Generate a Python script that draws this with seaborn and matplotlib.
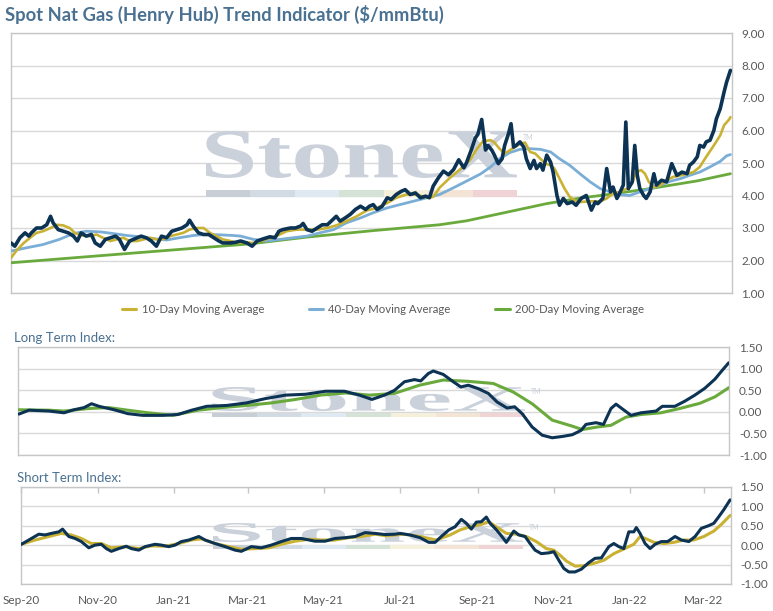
import pandas as pd
import matplotlib
matplotlib.use('Agg')
import matplotlib.pyplot as plt
import matplotlib.dates as mdates
import matplotlib.transforms as mtransforms
from matplotlib.patches import PathPatch, Rectangle
from matplotlib.lines import Line2D
from matplotlib.textpath import TextPath
from matplotlib.font_manager import FontProperties
from matplotlib.ticker import MultipleLocator, FormatStrFormatter
import seaborn as sns

W, H = 773, 611
START = pd.Timestamp('2020-09-01')

# ---- top panel: spot price and moving averages (days since 1 Sep 2020) ----
SPOT_DAY = [0, 3, 7, 11, 14, 16, 20, 24, 28, 31, 33, 37, 41, 45, 49, 52, 55, 59, 63, 66,
            70, 74, 78, 82, 85, 89, 93, 99, 102, 106, 110, 114, 118, 122, 126, 130, 134, 138, 140, 143,
            147, 151, 155, 159, 163, 166, 172, 176, 180, 185, 189, 193, 198, 203, 207, 210, 213, 219, 223, 227,
            229, 232, 236, 240, 244, 248, 251, 255, 258, 262, 266, 270, 274, 278, 281, 284, 287, 291, 295, 298,
            302, 306, 309, 313, 317, 321, 325, 328, 331, 335, 339, 343, 347, 351, 355, 357, 361, 364, 366, 369,
            372, 374, 377, 379, 382, 385, 387, 390, 392, 394, 396, 399, 402, 404, 407, 410, 412, 415, 417, 420,
            423, 425, 428, 430, 433, 436, 440, 443, 447, 451, 455, 458, 460, 464, 467, 470, 472, 475, 477, 480,
            482, 484, 487, 489, 491, 493, 496, 498, 501, 504, 506, 510, 514, 518, 522, 526, 530, 532, 535, 538,
            540, 543, 545, 548, 551, 553, 556, 559, 561, 564]
SPOT_PRICE = [2.54, 2.44, 2.70, 2.85, 2.75, 2.85, 3.00, 3.00, 3.10, 3.36, 3.16, 2.95, 2.90, 2.85, 2.75, 2.60, 2.85, 2.75, 2.80, 2.54,
              2.44, 2.65, 2.70, 2.75, 2.65, 2.34, 2.60, 2.70, 2.75, 2.70, 2.60, 2.44, 2.75, 2.70, 2.90, 2.95, 3.00, 3.10, 3.24, 3.05,
              2.85, 2.80, 2.80, 2.70, 2.60, 2.54, 2.54, 2.56, 2.60, 2.54, 2.44, 2.60, 2.67, 2.73, 2.70, 2.90, 2.95, 3.00, 3.00, 3.06,
              3.14, 2.95, 2.90, 3.00, 3.10, 3.10, 3.21, 3.36, 3.21, 3.31, 3.42, 3.57, 3.67, 3.57, 3.67, 3.72, 3.57, 3.67, 3.93, 3.88,
              4.03, 4.13, 4.18, 4.03, 4.08, 3.93, 3.98, 3.93, 4.29, 4.54, 4.75, 4.64, 4.80, 5.10, 4.85, 5.00, 5.42, 5.77, 5.88, 6.34,
              5.40, 5.54, 5.39, 5.24, 4.98, 5.13, 5.54, 5.90, 6.21, 5.49, 5.54, 5.65, 5.49, 5.13, 4.83, 5.08, 4.83, 4.98, 4.78, 5.24,
              5.03, 4.72, 4.00, 3.70, 3.91, 3.75, 3.80, 3.70, 3.91, 4.00, 3.55, 3.80, 3.75, 3.91, 4.83, 4.11, 4.26, 3.91, 4.06, 4.32,
              6.26, 4.21, 4.42, 5.54, 4.62, 4.21, 4.00, 3.91, 4.11, 4.67, 4.32, 4.47, 4.42, 4.98, 4.62, 4.72, 4.67, 4.93, 5.03, 5.19,
              5.54, 5.49, 5.65, 5.70, 6.00, 6.36, 6.67, 7.18, 7.49, 7.85]

MA10_DAY = [0, 4, 10, 15, 20, 25, 31, 36, 41, 46, 50, 55, 62, 67, 72, 78, 83, 88, 93, 99,
            104, 109, 114, 119, 125, 130, 135, 140, 146, 151, 156, 161, 166, 172, 177, 182, 190, 200, 208, 216,
            224, 240, 248, 255, 263, 271, 279, 287, 295, 302, 310, 318, 326, 331, 336, 344, 352, 360, 365, 370,
            376, 379, 383, 387, 391, 395, 399, 403, 407, 411, 415, 419, 423, 426, 430, 434, 438, 442, 446, 454,
            462, 467, 472, 477, 483, 487, 490, 494, 497, 500, 504, 509, 514, 519, 525, 530, 535, 540, 545, 551,
            556, 559, 563, 564]
MA10 = [2.08, 2.29, 2.54, 2.70, 2.85, 2.90, 3.00, 3.10, 3.08, 3.00, 2.85, 2.77, 2.75, 2.80, 2.70, 2.60, 2.65, 2.70, 2.60, 2.60,
        2.65, 2.70, 2.65, 2.65, 2.75, 2.80, 2.85, 2.95, 3.00, 3.00, 2.85, 2.75, 2.65, 2.60, 2.54, 2.56, 2.54, 2.65, 2.75, 2.90,
        2.95, 2.95, 3.00, 3.08, 3.21, 3.36, 3.54, 3.62, 3.77, 3.93, 4.03, 4.03, 3.93, 3.96, 4.24, 4.54, 4.80, 5.10, 5.42, 5.67,
        5.70, 5.63, 5.44, 5.29, 5.39, 5.49, 5.59, 5.63, 5.34, 5.29, 5.13, 4.98, 4.93, 4.83, 4.52, 4.21, 3.96, 3.85, 3.80, 3.82,
        3.82, 3.91, 4.06, 4.11, 4.21, 4.37, 4.72, 4.78, 4.67, 4.42, 4.26, 4.32, 4.47, 4.57, 4.62, 4.67, 4.72, 4.88, 5.19, 5.54,
        5.85, 6.16, 6.34, 6.41]

MA40_DAY = [0, 12, 25, 38, 49, 59, 70, 80, 91, 101, 112, 122, 132, 143, 153, 164, 174, 180, 190, 200,
            211, 221, 232, 242, 253, 263, 274, 284, 295, 305, 316, 326, 336, 347, 357, 368, 376, 383, 391, 399,
            407, 415, 423, 430, 438, 446, 454, 462, 470, 477, 485, 493, 501, 509, 517, 525, 532, 540, 548, 556,
            561, 564]
MA40 = [2.29, 2.39, 2.49, 2.65, 2.83, 2.90, 2.88, 2.83, 2.77, 2.73, 2.67, 2.63, 2.70, 2.77, 2.80, 2.79, 2.77, 2.75, 2.65, 2.60,
        2.65, 2.70, 2.75, 2.85, 2.95, 3.16, 3.31, 3.47, 3.62, 3.72, 3.83, 3.93, 4.03, 4.24, 4.44, 4.66, 4.88, 5.13, 5.32, 5.42,
        5.44, 5.42, 5.34, 5.13, 4.93, 4.67, 4.42, 4.21, 4.11, 4.03, 4.00, 4.11, 4.21, 4.32, 4.44, 4.52, 4.62, 4.72, 4.88, 5.05,
        5.22, 5.26]

MA200_DAY = [0, 93, 187, 232, 284, 336, 357, 376, 420, 446, 472, 499, 538, 564]
MA200 = [1.93, 2.22, 2.51, 2.72, 2.92, 3.10, 3.22, 3.38, 3.75, 3.92, 4.05, 4.20, 4.45, 4.67]

# ---- long term index ----
LT_DAY = [0, 8, 24, 36, 44, 52, 58, 64, 76, 87, 99, 115, 127, 138, 150, 166, 182, 197, 213, 229,
          245, 260, 272, 282, 292, 300, 308, 316, 321, 327, 331, 339, 347, 353, 359, 367, 375, 382, 390, 396,
          402, 410, 418, 426, 434, 442, 449, 453, 461, 467, 473, 477, 483, 489, 497, 509, 514, 524, 532, 540,
          548, 556, 562, 567]
LT_INDEX = [-0.05, 0.04, 0.02, -0.02, 0.05, 0.10, 0.19, 0.13, 0.05, -0.04, -0.08, -0.08, -0.06, 0.04, 0.13, 0.15, 0.21, 0.31, 0.39, 0.41,
            0.48, 0.48, 0.39, 0.29, 0.39, 0.50, 0.70, 0.75, 0.72, 0.89, 0.95, 0.87, 0.70, 0.58, 0.62, 0.54, 0.43, 0.23, 0.09, 0.12,
            -0.04, -0.35, -0.54, -0.60, -0.57, -0.53, -0.43, -0.29, -0.25, -0.29, 0.08, 0.18, 0.05, -0.08, -0.02, 0.02, 0.13, 0.13, 0.25, 0.39,
            0.55, 0.76, 0.97, 1.14]
LT_SIG_DAY = [0, 24, 36, 56, 72, 87, 103, 123, 143, 162, 182, 202, 221, 241, 261, 280, 300, 320, 339, 359,
              379, 395, 410, 426, 442, 450, 462, 473, 485, 497, 513, 528, 544, 556, 567]
LT_SIGNAL = [0.05, 0.04, 0.02, 0.08, 0.10, 0.04, -0.02, -0.08, 0.04, 0.10, 0.15, 0.21, 0.29, 0.39, 0.44, 0.39, 0.43, 0.62, 0.74, 0.71,
             0.66, 0.46, 0.19, -0.19, -0.33, -0.41, -0.35, -0.31, -0.12, -0.06, -0.02, 0.08, 0.20, 0.35, 0.56]

# ---- short term index ----
ST_DAY = [0, 6, 14, 19, 24, 30, 33, 38, 43, 48, 54, 59, 64, 68, 72, 78, 84, 88, 94, 99,
          107, 112, 118, 123, 128, 134, 142, 147, 155, 163, 171, 176, 184, 192, 200, 208, 216, 224, 235, 243,
          251, 259, 267, 275, 283, 291, 299, 303, 311, 319, 326, 331, 336, 342, 347, 352, 356, 360, 364, 368,
          372, 375, 379, 383, 388, 394, 398, 403, 407, 411, 416, 422, 426, 430, 434, 438, 443, 448, 454, 459,
          464, 470, 474, 478, 482, 486, 490, 492, 495, 499, 503, 507, 512, 517, 523, 528, 534, 539, 544, 550,
          554, 558, 562, 567]
ST_INDEX = [0.02, 0.13, 0.28, 0.26, 0.30, 0.34, 0.41, 0.22, 0.17, 0.09, -0.07, 0.00, 0.02, -0.09, -0.16, -0.09, -0.03, -0.09, -0.13, -0.04,
            0.02, 0.00, -0.04, 0.00, 0.09, 0.13, 0.22, 0.13, 0.04, -0.04, -0.13, -0.16, -0.04, -0.07, 0.00, 0.09, 0.17, 0.17, 0.10, 0.10,
            0.17, 0.19, 0.22, 0.32, 0.30, 0.27, 0.28, 0.30, 0.26, 0.19, 0.07, 0.07, 0.22, 0.39, 0.47, 0.66, 0.56, 0.41, 0.59, 0.60,
            0.72, 0.56, 0.43, 0.28, 0.07, 0.36, 0.26, 0.22, 0.04, -0.13, -0.22, -0.20, -0.17, -0.39, -0.60, -0.69, -0.69, -0.62, -0.45, -0.34,
            -0.33, -0.04, 0.04, -0.04, -0.09, 0.34, 0.34, 0.45, 0.30, 0.04, -0.09, 0.02, 0.09, 0.09, 0.22, 0.13, 0.09, 0.22, 0.43, 0.50,
            0.56, 0.73, 0.91, 1.16]
ST_SIG_DAY = [0, 11, 22, 32, 40, 48, 56, 64, 72, 83, 94, 104, 115, 126, 136, 144, 155, 166, 176, 187,
              198, 208, 219, 230, 240, 251, 262, 272, 283, 292, 306, 319, 332, 343, 351, 359, 367, 374, 380, 388,
              396, 404, 412, 420, 426, 431, 436, 443, 450, 458, 466, 474, 482, 490, 495, 500, 506, 514, 522, 530,
              538, 546, 554, 560, 567]
ST_SIGNAL = [0.02, 0.13, 0.22, 0.30, 0.26, 0.17, 0.04, 0.04, -0.07, -0.04, -0.09, -0.02, -0.03, 0.04, 0.13, 0.16, 0.04, -0.04, -0.11, -0.09,
             -0.07, 0.02, 0.10, 0.15, 0.13, 0.13, 0.19, 0.22, 0.28, 0.24, 0.28, 0.22, 0.13, 0.26, 0.39, 0.47, 0.52, 0.60, 0.47, 0.30,
             0.28, 0.22, 0.09, -0.09, -0.13, -0.26, -0.41, -0.54, -0.53, -0.47, -0.39, -0.22, -0.10, 0.02, 0.22, 0.16, 0.07, 0.04, 0.07, 0.13,
             0.13, 0.22, 0.36, 0.53, 0.76]

LEGEND_LABELS = ['10-Day Moving Average', '40-Day Moving Average', '200-Day Moving Average']

NAVY = '#0c3354'
GOLD = '#c9b233'
BLUE = '#7aaed6'
GREEN = '#6aaa3c'
TITLE_BLUE = '#4a7191'
LABEL_GREY = '#595959'
WM_TEXT = '#cad1da'
WM_BAR = ['#c8ced6', '#d2dae3', '#dfe9f2', '#d5e3d6', '#f5f0db', '#f4e4d5', '#f0d3d5']


def days(d):
    return START + pd.to_timedelta(d, unit='D')


def px_axes(fig, x0, y0, x1, y1):
    return fig.add_axes([x0 / W, 1 - y1 / H, (x1 - x0) / W, (y1 - y0) / H])


def style_axes(ax, ylo, yhi, step):
    ax.set_ylim(ylo, yhi)
    ax.yaxis.set_major_locator(MultipleLocator(step))
    ax.yaxis.set_major_formatter(FormatStrFormatter('%.2f'))
    ax.yaxis.tick_right()
    ax.tick_params(axis='y', length=0, pad=7, labelsize=8.5, labelcolor=LABEL_GREY)
    ax.grid(axis='y', color='#d9d9d9', linewidth=1)
    ax.grid(axis='x', visible=False)
    ax.set_axisbelow(True)
    ax.set_facecolor('white')
    for s in ax.spines.values():
        s.set_visible(True)
        s.set_color('#c6c6c6')
        s.set_linewidth(1)
    ax.set_xlabel('')
    ax.set_ylabel('')


def watermark(ax, x0, x1, t_top, t_bot, b_top, b_bot, tm_y):
    # squashed StoneX logo placed in pixel coordinates
    path = TextPath((0, 0), 'StoneX', size=100,
                    prop=FontProperties(family='Liberation Serif', weight='bold'))
    ext = path.get_extents()
    tr = (mtransforms.Affine2D().translate(-ext.x0, -ext.y0)
          .scale((x1 - x0) / ext.width, (t_bot - t_top) / ext.height)
          .translate(x0, H - t_bot))
    ax.add_artist(PathPatch(path, transform=tr, facecolor=WM_TEXT, edgecolor='none', zorder=1))
    seg = (x1 - x0) / len(WM_BAR)
    for i, c in enumerate(WM_BAR):
        ax.add_artist(Rectangle((x0 + i * seg, H - b_bot), seg, b_bot - b_top,
                                transform=mtransforms.IdentityTransform(),
                                facecolor=c, edgecolor='none', zorder=1))
    ax.text(x1 + 6, H - tm_y, 'TM', transform=mtransforms.IdentityTransform(),
            fontsize=5, color=WM_TEXT, va='center', ha='left', zorder=1)


def line(ax, d, v, color, lw):
    sns.lineplot(x=days(d), y=v, ax=ax, color=color, linewidth=lw, estimator=None,
                 solid_joinstyle='round', solid_capstyle='round', zorder=3)


sns.set_theme(style='white')
plt.rcParams['font.family'] = ['Lato', 'DejaVu Sans']

fig = plt.figure(figsize=(W / 100, H / 100), dpi=100)
fig.patch.set_facecolor('white')

ax_top = px_axes(fig, 11, 33, 731.7, 293)
ax_lt = px_axes(fig, 18.3, 347.3, 729.3, 455)
ax_st = px_axes(fig, 20.7, 486.7, 730.7, 584)

# top panel
line(ax_top, MA200_DAY, MA200, GREEN, 2.0)
line(ax_top, MA40_DAY, MA40, BLUE, 2.0)
line(ax_top, MA10_DAY, MA10, GOLD, 1.9)
line(ax_top, SPOT_DAY, SPOT_PRICE, NAVY, 2.6)
style_axes(ax_top, 1, 9, 1)
ax_top.set_xlim(days(0), days(565))
ax_top.set_xticks([])
watermark(ax_top, 206, 517, 131, 178, 190, 197, 137)

# long term panel
line(ax_lt, LT_SIG_DAY, LT_SIGNAL, GREEN, 2.2)
line(ax_lt, LT_DAY, LT_INDEX, NAVY, 2.2)
style_axes(ax_lt, -1, 1.5, 0.5)
ax_lt.set_xlim(days(-0.5), days(567.5))
ax_lt.set_xticks([])
watermark(ax_lt, 212, 525, 387, 411, 412.5, 416.5, 391)

# short term panel
line(ax_st, ST_SIG_DAY, ST_SIGNAL, GOLD, 2.2)
line(ax_st, ST_DAY, ST_INDEX, NAVY, 2.2)
style_axes(ax_st, -1, 1.5, 0.5)
ax_st.set_xlim(days(-0.5), days(567.5))
ax_st.xaxis.set_major_locator(mdates.MonthLocator(bymonth=[1, 3, 5, 7, 9, 11]))
ax_st.xaxis.set_major_formatter(mdates.DateFormatter('%b-%y'))
ax_st.xaxis.set_tick_params(top=True, bottom=False, direction='in', length=4, width=1,
                            color='#c6c6c6', labelbottom=True, labeltop=False,
                            labelsize=8.5, labelcolor=LABEL_GREY, pad=8)
watermark(ax_st, 213, 523, 523, 542, 545, 548.5, 527)

# texts
fig.text(5 / W, 1 - 14 / H, 'Spot Nat Gas (Henry Hub) Trend Indicator ($/mmBtu)',
         fontsize=13.2, fontweight='bold', color=TITLE_BLUE, ha='left', va='center')
fig.text(14 / W, 1 - 338 / H, 'Long Term Index:', fontsize=9.5, color=TITLE_BLUE,
         ha='left', va='center')
fig.text(17 / W, 1 - 478 / H, 'Short Term Index:', fontsize=9.5, color=TITLE_BLUE,
         ha='left', va='center')

handles = [Line2D([], [], color=c, linewidth=2.2) for c in (GOLD, BLUE, GREEN)]
fig.legend(handles, LEGEND_LABELS, loc='center', bbox_to_anchor=(383 / W, 1 - 309 / H),
           ncol=3, frameon=False, fontsize=8.2, labelcolor=LABEL_GREY,
           handlelength=1.3, handletextpad=0.45, columnspacing=3.9)

fig.savefig('out.png', dpi=100)
